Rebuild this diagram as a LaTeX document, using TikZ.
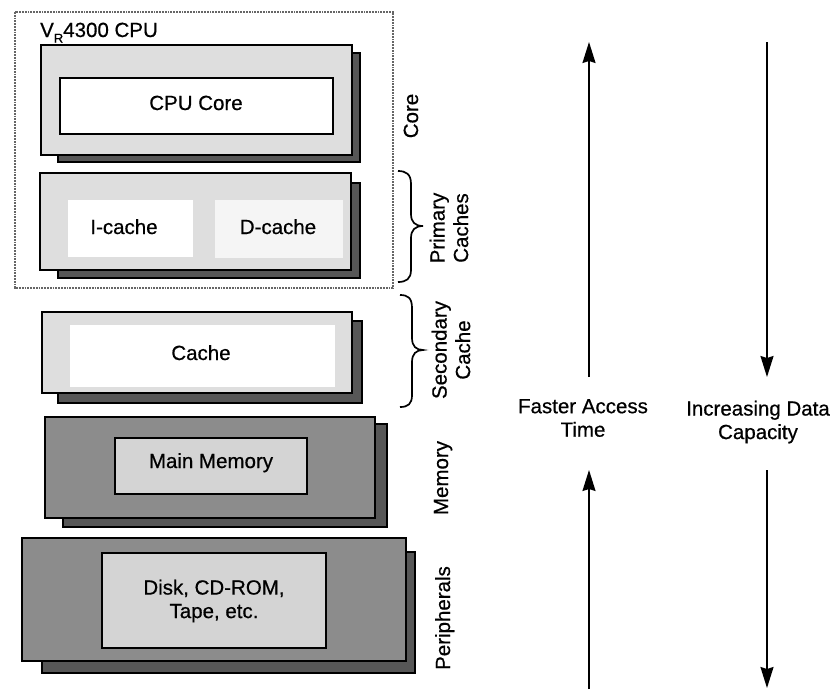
\documentclass[tikz,border=0pt]{standalone}
\usepackage{fontspec}
\setmainfont{Liberation Sans}[FakeBold=0.6]
\usetikzlibrary{arrows.meta}
\begin{document}
\begin{tikzpicture}[x=1pt,y=-1pt,
  lbl/.style={font=\fontsize{20.5}{23.5}\selectfont, inner sep=0pt},
  frontlight/.style={draw=black, line width=1.6pt, fill=black!13},
  frontdark/.style={draw=black, line width=1.6pt, fill=black!45},
  shadowbox/.style={draw=black, line width=1.6pt, fill=black!66},
  innerbox/.style={draw=black, line width=1.6pt, fill=black!17},
  corebox/.style={draw=black, line width=1.6pt, fill=white},
  plainregion/.style={fill=white},
  faintregion/.style={fill=black!4},
  cpuframe/.style={draw=black!60, densely dotted, line width=1.8pt},
  bracket/.style={draw=black, line width=1.7pt},
  arr/.style={line width=1.7pt, -{Stealth[length=21pt,width=13pt,inset=2pt]}}
]
\useasboundingbox (0,0) rectangle (832,689);

% CPU frame
\draw[cpuframe] (15,12) rectangle (393,288);
\node[lbl, anchor=base west] (title) at (40,37) {V\raisebox{-0.28em}{\fontsize{13}{13}\selectfont R}4300 CPU};

% Core
\draw[shadowbox] (58,53) rectangle (360,162);
\draw[frontlight] (41,45) rectangle (352,155);
\draw[corebox] (60,78) rectangle (333,134);
\node[lbl, anchor=base] (cpucore) at (196,110) {CPU Core};

% Primary caches
\draw[shadowbox] (58,183) rectangle (360,278);
\draw[frontlight] (40,173) rectangle (351,270);
\fill[plainregion] (68,200) rectangle (193,257);
\fill[faintregion] (215,200) rectangle (343,258);
\node[lbl, anchor=base] (icache) at (124,234) {I-cache};
\node[lbl, anchor=base] (dcache) at (278,234) {D-cache};

% Secondary cache
\draw[shadowbox] (58,321) rectangle (362,403);
\draw[frontlight] (42,312) rectangle (352,393);
\fill[plainregion] (70,325) rectangle (335,387);
\node[lbl, anchor=base] (cache) at (201,360) {Cache};

% Memory
\draw[shadowbox] (63,424) rectangle (387,527);
\draw[frontdark] (45,417) rectangle (375,518);
\draw[innerbox] (115,438) rectangle (307,494);
\node[lbl, anchor=base] (mainmem) at (211,468) {Main Memory};

% Peripherals
\draw[shadowbox] (42,552) rectangle (415,673);
\draw[frontdark] (22,538) rectangle (406,661);
\draw[innerbox] (102,553) rectangle (326,648);
\node[lbl, align=center, anchor=center] (disk) at (214,601) {Disk, CD-ROM,\\Tape, etc.};

% braces
\draw[bracket] (398,171) .. controls (406,171) and (411,174) .. (411,184) -- (411,214)
  .. controls (411,222) and (415,226) .. (423,226)
  .. controls (415,226) and (411,230) .. (411,238) -- (411,270)
  .. controls (411,279) and (406,282) .. (398,282);
\draw[bracket] (400,295) .. controls (408,295) and (412,298) .. (412,308) -- (412,338)
  .. controls (412,346) and (416,350) .. (423,350)
  .. controls (416,350) and (412,354) .. (412,362) -- (412,395)
  .. controls (412,404) and (408,407) .. (400,407);

% level labels
\node[lbl, rotate=90, anchor=base] (lcore) at (418,116) {Core};
\node[lbl, rotate=90, align=center, anchor=center] (lprim) at (449,228) {Primary\\Caches};
\node[lbl, rotate=90, align=center, anchor=center] (lsec) at (451,350) {Secondary\\Cache};
\node[lbl, rotate=90, anchor=base] (lmem) at (448,478) {Memory};
\node[lbl, rotate=90, anchor=base] (lper) at (450,618) {Peripherals};

% arrows and captions
\node[lbl, align=center, anchor=center] (faster) at (583,418) {Faster Access\\Time};
\node[lbl, align=center, anchor=center] (incr) at (758,422) {Increasing Data\\Capacity};

\coordinate (fa1) at (589,377);
\coordinate (fa2) at (589,42);
\coordinate (fb1) at (589,689);
\coordinate (fb2) at (589,470);
\coordinate (ia1) at (767,42);
\coordinate (ia2) at (767,377);
\coordinate (ib1) at (767,470);
\coordinate (ib2) at (767,688);
\draw[arr] (fa1) -- (fa2);
\draw[arr] (fb1) -- (fb2);
\draw[arr] (ia1) -- (ia2);
\draw[arr] (ib1) -- (ib2);
\end{tikzpicture}
\end{document}
